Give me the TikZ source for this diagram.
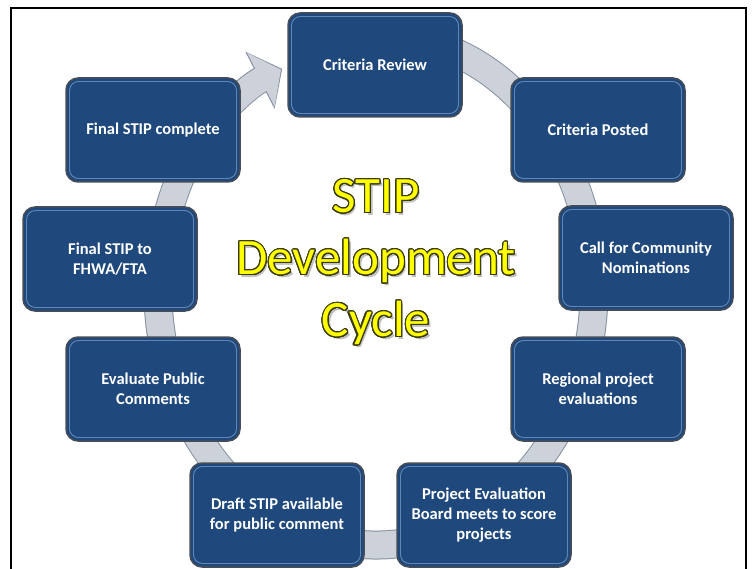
\documentclass[tikz,border=0pt]{standalone}
\usepackage{fontspec}
\newfontfamily\calibri{Carlito}
\usepackage{xcolor}
\usepackage{contour}
\usepackage{tikz}
\usetikzlibrary{arrows.meta, backgrounds, calc}
\contourlength{1.1pt}
\contournumber{32}
\definecolor{stepblue}{HTML}{1F497D}
\definecolor{stepedge}{HTML}{474D57}
\definecolor{stephl}{HTML}{8FB0D8}
\definecolor{bandfill}{HTML}{CDD1DA}
\definecolor{bandedge}{HTML}{8590A0}
\definecolor{titleyellow}{HTML}{FFFF00}
\definecolor{titleedge}{HTML}{3C3C14}

\newcommand{\titleline}[1]{\contour{titleedge}{#1}}

\begin{document}
\begin{tikzpicture}[x=1pt, y=1pt,
    stepbox/.style={rectangle, rounded corners=12pt, fill=stepblue, draw=stepedge, line width=1.5pt,
      minimum width=174pt, minimum height=104pt, align=center, text=white,
      font=\calibri\bfseries\fontsize{16.5}{20}\selectfont,
      path picture={\draw[stephl, opacity=0.6, line width=0.9pt, rounded corners=9pt]
        ($(path picture bounding box.north west)+(3.5,-3.5)$) rectangle
        ($(path picture bounding box.south east)+(-3.5,3.5)$);}},
    band/.style={line width=1pt, draw=bandedge, double=bandfill, double distance=27pt},
    titletext/.style={align=center, font=\calibri\fontsize{51}{62}\selectfont},
  ]
    \useasboundingbox (0,0) rectangle (752,-569);

    % frame
    \draw[line width=1.8pt] (11,-569) -- (11,-8) -- (746,-8) -- (746,-569);

    % steps of the cycle
    \node[stepbox] (review) at (375, -65) {Criteria Review};
    \node[stepbox] (posted) at (598, -130) {Criteria Posted};
    \node[stepbox] (call) at (646, -258) {Call for Community\\Nominations};
    \node[stepbox] (regional) at (598, -389) {Regional project\\evaluations};
    \node[stepbox] (peb) at (484, -515) {Project Evaluation\\Board meets to score\\projects};
    \node[stepbox] (draft) at (277, -515) {Draft STIP available\\for public comment};
    \node[stepbox] (evaluate) at (153, -389) {Evaluate Public\\Comments};
    \node[stepbox] (fhwa) at (110, -259) {Final STIP to\\FHWA/FTA};
    \node[stepbox] (complete) at (153, -130) {Final STIP complete};

    % middle of the ring
    \coordinate (hub) at (376, -290);

    % title
    \node[titletext, text=gray!50] (shadow) at (378.5, -265.5) {STIP\\Development\\Cycle};
    \node[titletext, text=titleyellow] (title) at (376, -263) {\titleline{STIP}\\\titleline{Development}\\\titleline{Cycle}};

    \begin{scope}[on background layer]
      % ring behind the steps
      \draw[band] ($(hub)+(80:218 and 255)$) arc[start angle=80, end angle=-220, x radius=218, y radius=255];
      % last step back to the first
      \draw[bandedge, line width=27pt, -{Triangle[length=25pt, width=63pt]}]
        ($(hub)+(145:222 and 244)$) arc[start angle=145, end angle=115, x radius=222, y radius=244];
      \draw[bandfill, line width=25pt, -{Triangle[length=22.5pt, width=59pt]}, shorten >=1.4pt]
        ($(hub)+(145:222 and 244)$) arc[start angle=145, end angle=115, x radius=222, y radius=244];
    \end{scope}

  \end{tikzpicture}
\end{document}
